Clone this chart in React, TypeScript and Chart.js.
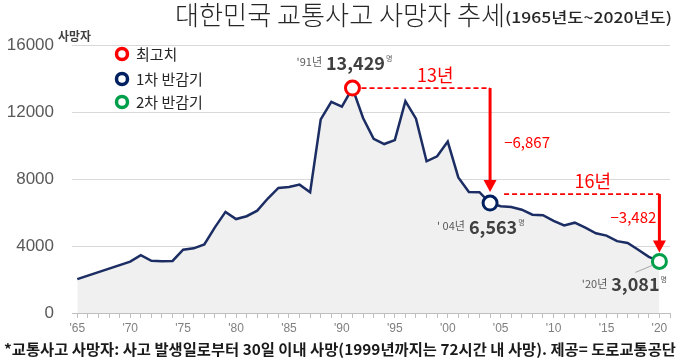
import React, { useEffect, useRef } from 'react';
import { Chart, registerables } from 'chart.js';

Chart.register(...registerables);

// ---- data ----
const years = [
  1965, 1970, 1971, 1972, 1973, 1974, 1975, 1976, 1977, 1978, 1979,
  1980, 1981, 1982, 1983, 1984, 1985, 1986, 1987, 1988, 1989,
  1990, 1991, 1992, 1993, 1994, 1995, 1996, 1997, 1998, 1999,
  2000, 2001, 2002, 2003, 2004, 2005, 2006, 2007, 2008, 2009,
  2010, 2011, 2012, 2013, 2014, 2015, 2016, 2017, 2018, 2019, 2020,
];
const deaths = [
  2020, 3069, 3456, 3120, 3089, 3110, 3780, 3860, 4097, 5114, 6036,
  5608, 5778, 6110, 6836, 7468, 7522, 7664, 7206, 11563, 12603,
  12325, 13429, 11640, 10402, 10087, 10323, 12653, 11603, 9057, 9353,
  10236, 8097, 7222, 7212, 6563, 6376, 6327, 6166, 5870, 5838,
  5505, 5229, 5392, 5092, 4762, 4621, 4292, 4185, 3781, 3349, 3081,
];
const yTicks = [0, 4000, 8000, 12000, 16000];
const markerYears = [1991, 2004, 2020];
const markerColors = ['#ff0000', '#002060', '#00a04a'];
const legendLabels = ['최고치', '1차 반감기', '2차 반감기'];
const markerYearLabels = ["'91년", "' 04년", "'20년"];
const gapLabels = ['13년', '16년'];
const changeLabels = ['−6,867', '−3,482'];
const titleText = '대한민국 교통사고 사망자 추세';
const subtitleText = '(1965년도~2020년도)';
const unitText = '사망자';
const footText = '*교통사고 사망자: 사고 발생일로부터 30일 이내 사망(1999년까지는 72시간 내 사망). 제공= 도로교통공단';

const KR = '"Noto Sans CJK KR", "Noto Sans", sans-serif';
const RED = '#ff0000';

function txt(
  ctx: CanvasRenderingContext2D, s: string, x: number, y: number,
  font: string, color: string, align: CanvasTextAlign = 'left', fitW?: number,
) {
  ctx.save();
  ctx.font = font;
  ctx.fillStyle = color;
  ctx.textBaseline = 'middle';
  ctx.textAlign = align;
  const w = ctx.measureText(s).width;
  const sx = fitW ? fitW / w : 1;
  ctx.translate(x, y);
  ctx.scale(sx, 1);
  ctx.fillText(s, 0, 0);
  ctx.restore();
  return w * sx;
}

function arrowDown(ctx: CanvasRenderingContext2D, x: number, y0: number, tip: number) {
  ctx.save();
  ctx.strokeStyle = RED;
  ctx.fillStyle = RED;
  ctx.lineWidth = 3;
  ctx.beginPath();
  ctx.moveTo(x, y0);
  ctx.lineTo(x, tip - 10);
  ctx.stroke();
  ctx.beginPath();
  ctx.moveTo(x - 6.5, tip - 12);
  ctx.lineTo(x + 6.5, tip - 12);
  ctx.lineTo(x, tip);
  ctx.closePath();
  ctx.fill();
  ctx.restore();
}

function dashed(ctx: CanvasRenderingContext2D, x0: number, x1: number, y: number) {
  ctx.save();
  ctx.strokeStyle = RED;
  ctx.lineWidth = 1.8;
  ctx.setLineDash([5, 3]);
  ctx.beginPath();
  ctx.moveTo(x0, y);
  ctx.lineTo(x1, y);
  ctx.stroke();
  ctx.restore();
}

function valueLabel(
  ctx: CanvasRenderingContext2D, yearLbl: string, value: number, cx: number, cy: number,
) {
  const s = value.toLocaleString('en-US');
  ctx.save();
  ctx.font = `bold 18px ${KR}`;
  const w = ctx.measureText(s).width;
  ctx.restore();
  txt(ctx, s, cx, cy, `bold 18px ${KR}`, '#404040', 'center');
  txt(ctx, yearLbl, cx - w / 2 - 4, cy - 1, `11px ${KR}`, '#595959', 'right');
  txt(ctx, '명', cx + w / 2 + 1, cy - 5, `7px ${KR}`, '#595959', 'left');
}

const annotationPlugin = {
  id: 'annots',
  afterDraw(chart: any) {
    const ctx: CanvasRenderingContext2D = chart.ctx;
    const xs = chart.scales.x;
    const ys = chart.scales.y;
    const pts = markerYears.map((yr) => {
      const i = years.indexOf(yr);
      return { x: xs.getPixelForValue(yr), y: ys.getPixelForValue(deaths[i]), v: deaths[i] };
    });
    const [p1, p2, p3] = pts;

    // title
    txt(ctx, titleText, 175, 15, `300 26px ${KR}`, '#262626', 'left', 330);
    txt(ctx, subtitleText, 505, 17, `500 15px ${KR}`, '#262626', 'left', 167);
    txt(ctx, unitText, 58, 36, `bold 12px ${KR}`, '#404040', 'left', 33);

    // legend
    const legY = [54, 79, 102];
    legendLabels.forEach((l, i) => {
      ctx.save();
      ctx.strokeStyle = markerColors[i];
      ctx.fillStyle = '#ffffff';
      ctx.lineWidth = 3.5;
      ctx.beginPath();
      ctx.arc(122, legY[i], 5.5, 0, Math.PI * 2);
      ctx.fill();
      ctx.stroke();
      ctx.restore();
      txt(ctx, l, 136, legY[i], `15px ${KR}`, '#262626', 'left');
    });

    // first half period
    dashed(ctx, p1.x + 9, p2.x, p1.y);
    arrowDown(ctx, p2.x, p1.y, p2.y - 11);
    txt(ctx, gapLabels[0], (p1.x + p2.x) / 2 + 14, p1.y - 13, `18px ${KR}`, RED, 'center');
    txt(ctx, changeLabels[0], p2.x + 37, p1.y + 54, `15px ${KR}`, RED, 'center');

    // second half period
    const dy = p2.y - 9;
    dashed(ctx, p2.x + 14, p3.x, dy);
    arrowDown(ctx, p3.x, dy, p3.y - 9);
    txt(ctx, gapLabels[1], (p2.x + p3.x) / 2 + 18, dy - 13, `18px ${KR}`, RED, 'center');
    txt(ctx, changeLabels[1], p3.x - 26, dy + 23, `15px ${KR}`, RED, 'center');

    // leader line
    ctx.save();
    ctx.strokeStyle = '#a6a6a6';
    ctx.lineWidth = 1;
    ctx.beginPath();
    ctx.moveTo(p3.x - 24, p3.y + 11);
    ctx.lineTo(p3.x - 7, p3.y + 4);
    ctx.stroke();
    ctx.restore();

    // value labels
    valueLabel(ctx, markerYearLabels[0], p1.v, p1.x + 3, p1.y - 25);
    valueLabel(ctx, markerYearLabels[1], p2.v, p2.x + 3, p2.y + 24);
    valueLabel(ctx, markerYearLabels[2], p3.v, p3.x - 24, p3.y + 23);

    // footnote
    txt(ctx, footText, 4, 349, `bold 15px ${KR}`, '#1a1a1a', 'left', 672);
  },
};

export default function App() {
  const ref = useRef<HTMLCanvasElement | null>(null);
  useEffect(() => {
    document.body.style.margin = '0';
    const canvas = ref.current!;
    const chart = new Chart(canvas, {
      type: 'line',
      data: {
        datasets: [
          {
            data: markerYears.map((yr) => ({ x: yr, y: deaths[years.indexOf(yr)] })),
            showLine: false,
            pointRadius: 7,
            pointBorderWidth: 3,
            pointBackgroundColor: '#ffffff',
            pointBorderColor: markerColors,
            order: 0,
          } as any,
          {
            data: years.map((yr, i) => ({ x: yr, y: deaths[i] })),
            borderColor: '#1b2d63',
            borderWidth: 2.5,
            backgroundColor: '#f0f0f0',
            fill: 'origin',
            pointRadius: 0,
            tension: 0,
            order: 1,
          } as any,
        ],
      },
      options: {
        animation: false,
        responsive: false,
        layout: { padding: { top: 45, right: 9, left: 0, bottom: 0 } },
        plugins: { legend: { display: false }, tooltip: { enabled: false } },
        scales: {
          x: {
            type: 'linear',
            min: 1964.5,
            max: 2021,
            afterFit: (s: any) => { s.height = 45; },
            border: { display: true, color: '#bfbfbf' },
            grid: { drawOnChartArea: false, drawTicks: true, tickLength: 5, color: '#bfbfbf' },
            ticks: {
              stepSize: 1,
              includeBounds: false,
              autoSkip: false,
              maxTicksLimit: 100,
              maxRotation: 0,
              padding: 3,
              color: '#808080',
              font: { size: 12, family: '"Liberation Sans", Arial, sans-serif' },
              callback: (v: any) => (Number(v) % 5 === 0 ? "'" + String(v).slice(2) : ''),
            },
          },
          y: {
            min: 0,
            max: 16000,
            afterFit: (s: any) => { s.width = 72; },
            afterBuildTicks: (s: any) => { s.ticks = yTicks.map((v) => ({ value: v })); },
            border: { display: false },
            grid: { color: '#d9d9d9', drawTicks: false, lineWidth: 1 },
            ticks: {
              padding: 18,
              color: '#595959',
              font: { size: 17, family: '"Liberation Sans", Arial, sans-serif' },
              callback: (v: any) => String(v),
            },
          },
        },
      } as any,
      plugins: [annotationPlugin],
    });
    return () => chart.destroy();
  }, []);
  return (
    <div style={{ width: 680, height: 358 }}>
      <canvas ref={ref} width={680} height={358} style={{ display: 'block' }} />
    </div>
  );
}
